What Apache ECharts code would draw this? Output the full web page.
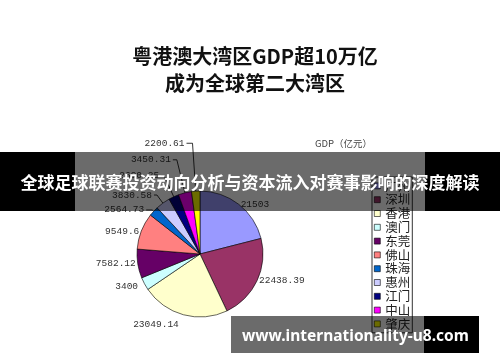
<!DOCTYPE html>
<html><head><meta charset="utf-8">
<script src="https://cdn.jsdelivr.net/npm/echarts@6/dist/echarts.min.js"></script>
<style>html,body{margin:0;padding:0;background:#fff}#c{width:500px;height:362px}</style>
</head><body><div id="c"></div>
<script>
// ---- data ----
const cities = ['广州','深圳','香港','澳门','东莞','佛山','珠海','惠州','江门','中山','肇庆'];
const gdpValues = [21503, 22438.39, 23049.14, 3400, 7582.12, 9549.6, 2564.73, 3830.58, 2690.25, 3450.31, 2200.61];
const sliceColors = ['#9999FF','#993366','#FFFFCC','#CCFFFF','#660066','#FF8080','#0066CC','#CCCCFF','#000080','#FF00FF','#FFFF00'];
const titleLines = ['粤港澳大湾区GDP超10万亿', '成为全球第二大湾区'];
const unitLabel = 'GDP（亿元）';
const bannerText = '全球足球联赛投资动向分析与资本流入对赛事影响的深度解读';
const watermarkText = 'www.internationality-u8.com';

// ---- layout-only settings (guide line lengths per slice) ----
const guide = {
  '广州': {len: 0, len2: 0, show: false},
  '深圳': {len: 0, len2: 0, show: false},
  '香港': {len: 10, len2: 0, show: false},
  '澳门': {len: 5, len2: 0, show: false},
  '东莞': {len: 0, len2: 0, show: false},
  '佛山': {len: 0, len2: 0, show: false},
  '珠海': {len: 2, len2: 6, show: true},
  '惠州': {len: 10, len2: 3, show: true},
  '江门': {len: 23, len2: 3, show: true},
  '中山': {len: 34, len2: 4, show: true},
  '肇庆': {len: 48, len2: 6, show: true}
};

const pieData = cities.map((c, i) => {
  const g = guide[c];
  return {
    name: c,
    value: gdpValues[i],
    itemStyle: {color: sliceColors[i]},
    labelLine: {show: g.show, length: g.len, length2: g.len2, lineStyle: {color: '#000', width: 0.8}},
    label: {distanceToLabelLine: 2}
  };
});

const chart = echarts.init(document.getElementById('c'), null, {renderer: 'canvas'});
chart.setOption({
  animation: false,
  backgroundColor: '#fff',
  title: {
    text: titleLines.join('\n'),
    left: 250, top: 38, textAlign: 'center',
    textStyle: {fontFamily: 'Noto Sans CJK SC', fontSize: 20, fontWeight: 'bold', color: '#111', lineHeight: 27}
  },
  legend: {
    orient: 'vertical', left: 372, top: 177,
    itemWidth: 6, itemHeight: 6, itemGap: 0,
    padding: [2, 2, 2, 2],
    borderColor: '#333', borderWidth: 1,
    icon: 'rect',
    itemStyle: {borderColor: '#000', borderWidth: 0.6},
    textStyle: {fontFamily: 'Noto Sans CJK SC', fontSize: 12.5, color: '#222', lineHeight: 13.8},
    data: cities
  },
  series: [{
    type: 'pie',
    center: [200, 254],
    radius: 63,
    startAngle: 90,
    clockwise: true,
    avoidLabelOverlap: false,
    itemStyle: {borderColor: '#000', borderWidth: 0.6},
    label: {
      show: true, position: 'outside',
      formatter: p => String(p.value),
      fontFamily: 'Liberation Mono', fontSize: 9.5, color: '#333'
    },
    emphasis: {disabled: true},
    data: pieData
  }],
  graphic: [
    {type: 'text', left: 315, top: 139, z: 5,
     style: {text: unitLabel, font: '9.5px "Noto Sans CJK SC"', fill: '#444'}},
    // banner overlay
    {type: 'rect', z: 100, shape: {x: 0, y: 152, width: 75, height: 59}, style: {fill: '#000'}},
    {type: 'rect', z: 100, shape: {x: 75, y: 152, width: 350, height: 59}, style: {fill: 'rgba(0,0,0,0.58)'}},
    {type: 'rect', z: 100, shape: {x: 425, y: 152, width: 75, height: 59}, style: {fill: '#000'}},
    {type: 'text', z: 101, x: 250, y: 183,
     style: {text: bannerText, fill: '#fff', font: 'bold 17px "Noto Sans CJK SC"', align: 'center', verticalAlign: 'middle'}},
    // watermark overlay
    {type: 'rect', z: 100, shape: {x: 231, y: 316, width: 193, height: 37}, style: {fill: 'rgba(0,0,0,0.58)'}},
    {type: 'rect', z: 100, shape: {x: 424, y: 316, width: 55, height: 37}, style: {fill: '#000'}},
    {type: 'text', z: 101, x: 242, y: 337,
     style: {text: watermarkText, fill: '#fff', font: 'bold 15.5px "Noto Sans"', align: 'left', verticalAlign: 'middle'}}
  ]
});
</script>
</body></html>
